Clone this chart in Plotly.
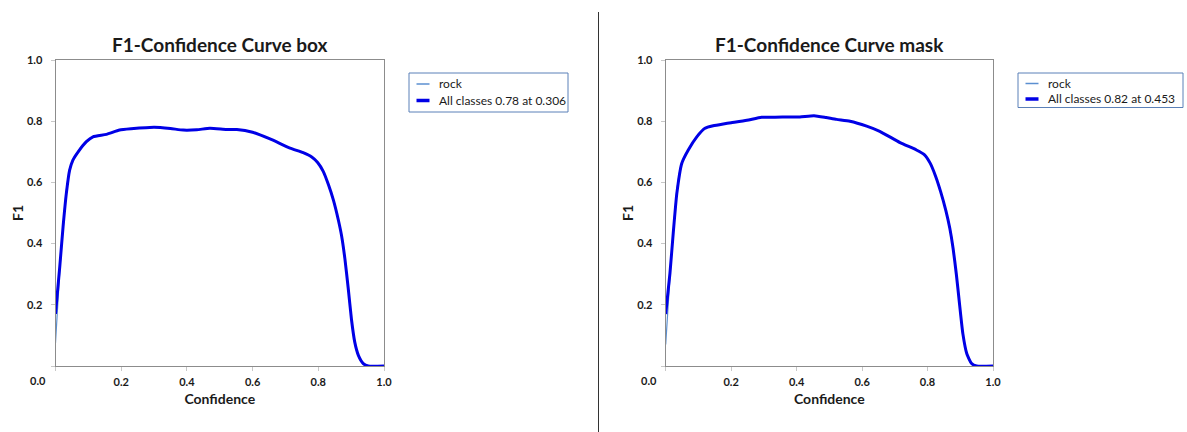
import plotly.graph_objects as go

# ---------------- data ----------------
box_conf = [0.0, 0.013, 0.023, 0.033, 0.043, 0.053, 0.069, 0.094, 0.114, 0.155, 0.195, 0.23, 0.30,
            0.35, 0.389, 0.43, 0.47, 0.521, 0.552, 0.60, 0.653, 0.714, 0.754, 0.78, 0.798, 0.815,
            0.831, 0.846, 0.861, 0.871, 0.881, 0.891, 0.901, 0.911, 0.922, 0.937, 0.952, 1.0]
box_all_f1 = [0.17, 0.325, 0.455, 0.564, 0.64, 0.673, 0.70, 0.733, 0.749, 0.757, 0.771, 0.775, 0.78,
              0.776, 0.771, 0.772, 0.777, 0.773, 0.773, 0.764, 0.742, 0.712, 0.697, 0.683, 0.665, 0.636,
              0.592, 0.542, 0.477, 0.425, 0.35, 0.255, 0.152, 0.078, 0.035, 0.008, 0.0, 0.0]
box_rock_f1 = [0.075, 0.31, 0.46, 0.575, 0.645, 0.675, 0.70, 0.733, 0.749, 0.757, 0.771, 0.775, 0.78,
               0.776, 0.771, 0.772, 0.777, 0.773, 0.773, 0.764, 0.742, 0.712, 0.697, 0.683, 0.665, 0.636,
               0.592, 0.542, 0.477, 0.43, 0.355, 0.255, 0.15, 0.075, 0.032, 0.006, 0.0, 0.0]

mask_conf = [0.0, 0.013, 0.023, 0.034, 0.049, 0.069, 0.095, 0.12, 0.145, 0.176, 0.2, 0.248, 0.293,
             0.334, 0.38, 0.41, 0.453, 0.49, 0.522, 0.563, 0.614, 0.654, 0.716, 0.766, 0.79, 0.808,
             0.824, 0.84, 0.856, 0.868, 0.878, 0.888, 0.898, 0.908, 0.92, 0.934, 0.95, 1.0]
mask_all_f1 = [0.17, 0.303, 0.434, 0.564, 0.662, 0.706, 0.749, 0.777, 0.785, 0.791, 0.795, 0.803, 0.813,
               0.813, 0.814, 0.814, 0.818, 0.812, 0.806, 0.80, 0.784, 0.767, 0.73, 0.706, 0.691, 0.663,
               0.622, 0.57, 0.508, 0.45, 0.385, 0.3, 0.2, 0.105, 0.04, 0.009, 0.0, 0.0]
mask_rock_f1 = [0.07, 0.29, 0.44, 0.575, 0.665, 0.706, 0.749, 0.777, 0.785, 0.791, 0.795, 0.803, 0.813,
                0.813, 0.814, 0.814, 0.818, 0.812, 0.806, 0.80, 0.784, 0.767, 0.73, 0.706, 0.691, 0.663,
                0.622, 0.57, 0.508, 0.455, 0.39, 0.3, 0.198, 0.1, 0.038, 0.006, 0.0, 0.0]

titles = ["F1-Confidence Curve box", "F1-Confidence Curve mask"]
legend_all = ["All classes 0.78 at 0.306", "All classes 0.82 at 0.453"]
class_name = "rock"
tick_vals = [0.0, 0.2, 0.4, 0.6, 0.8, 1.0]
tick_text = ["", "0.2", "0.4", "0.6", "0.8", "1.0"]

# ---------------- style ----------------
W, H = 1187, 432
FONT = "Lato"
TXT = "#1a1a1a"
AX = "#8c8c8c"
THICK = "#0000e6"
THIN = "#5b8fd0"
LEG_BORDER = "#5a80b8"

def px(x):
    return x / W

def py(y):
    return 1 - y / H

x_domains = [[px(55.5), px(384)], [px(665.7), px(993)]]
y_domain = [py(366), py(60)]

fig = go.Figure()

series = [(box_conf, box_rock_f1, box_all_f1), (mask_conf, mask_rock_f1, mask_all_f1)]
for i, (cx, rock, allc) in enumerate(series):
    xa = "x" if i == 0 else "x2"
    ya = "y" if i == 0 else "y2"
    fig.add_trace(go.Scatter(x=cx, y=rock, mode="lines", name=class_name,
                             line=dict(color=THIN, width=1.2, shape="spline", smoothing=0.5),
                             xaxis=xa, yaxis=ya, showlegend=False, hoverinfo="skip"))
    fig.add_trace(go.Scatter(x=cx, y=allc, mode="lines", name=legend_all[i],
                             line=dict(color=THICK, width=3, shape="spline", smoothing=0.5),
                             xaxis=xa, yaxis=ya, showlegend=False))

axis_common = dict(range=[0, 1], showgrid=False, zeroline=False, showline=True, linecolor=AX,
                   linewidth=1, mirror=True, ticks="outside", ticklen=4, tickcolor="#c8c8c8",
                   tickvals=tick_vals, tickfont=dict(family=FONT, size=11, color=TXT, weight="bold"),
                   automargin=False, fixedrange=True)

layout = dict(width=W, height=H, margin=dict(l=0, r=0, t=0, b=0),
              paper_bgcolor="white", plot_bgcolor="white", showlegend=False,
              font=dict(family=FONT, color=TXT))

for i in range(2):
    sx = "" if i == 0 else "2"
    layout["xaxis" + sx] = dict(axis_common, domain=x_domains[i], anchor="y" + sx, ticktext=tick_text,
                                ticklabelstandoff=2,
                                title=dict(text="Confidence", standoff=6,
                                           font=dict(family=FONT, size=14, color=TXT, weight="bold")))
    layout["yaxis" + sx] = dict(axis_common, domain=y_domain, anchor="x" + sx, ticktext=tick_text,
                                ticklabelstandoff=6,
                                title=dict(text="F1", standoff=0,
                                           font=dict(family=FONT, size=14, color=TXT, weight="bold")))

fig.update_layout(**layout)

annotations = []
shapes = []
for i in range(2):
    x0, x1 = x_domains[i]
    cx = (x0 + x1) / 2
    annotations.append(dict(text=titles[i], x=cx, y=py(45), xref="paper", yref="paper",
                            xanchor="center", yanchor="middle", showarrow=False,
                            font=dict(family=FONT, size=19, color=TXT, weight="bold")))
    # shared origin label
    left_px = 55.5 if i == 0 else 665.7
    annotations.append(dict(text="0.0", x=px(left_px - 17), y=py(380), xref="paper", yref="paper",
                            xanchor="center", yanchor="middle", showarrow=False,
                            font=dict(family=FONT, size=11, color=TXT, weight="bold")))

# custom legends
legends = [dict(bx0=409, bx1=568, by0=73, by1=112, r1=84, r2=100.5),
           dict(bx0=1018, bx1=1183, by0=73, by1=107.5, r1=83.5, r2=99)]
for i, lg in enumerate(legends):
    shapes.append(dict(type="rect", xref="paper", yref="paper",
                       x0=px(lg["bx0"]), x1=px(lg["bx1"]), y0=py(lg["by1"]), y1=py(lg["by0"]),
                       line=dict(color=LEG_BORDER, width=1), fillcolor="white"))
    sx0 = lg["bx0"] + 7.5
    sx1 = sx0 + 13
    shapes.append(dict(type="line", xref="paper", yref="paper", x0=px(sx0), x1=px(sx1),
                       y0=py(lg["r1"]), y1=py(lg["r1"]), line=dict(color=THIN, width=1.5)))
    shapes.append(dict(type="line", xref="paper", yref="paper", x0=px(sx0), x1=px(sx1),
                       y0=py(lg["r2"]), y1=py(lg["r2"]), line=dict(color=THICK, width=3.5)))
    annotations.append(dict(text=class_name, x=px(sx1 + 7.5), y=py(lg["r1"]), xref="paper", yref="paper",
                            xanchor="left", yanchor="middle", showarrow=False,
                            font=dict(family=FONT, size=12, color=TXT)))
    annotations.append(dict(text=legend_all[i], x=px(sx1 + 7.5), y=py(lg["r2"]), xref="paper", yref="paper",
                            xanchor="left", yanchor="middle", showarrow=False,
                            font=dict(family=FONT, size=12, color=TXT)))

# separator line between the two panels
shapes.append(dict(type="line", xref="paper", yref="paper", x0=px(598.5), x1=px(598.5),
                   y0=0, y1=py(12), line=dict(color="#333333", width=1)))

fig.update_layout(annotations=annotations, shapes=shapes)

fig.write_html("out.html")
